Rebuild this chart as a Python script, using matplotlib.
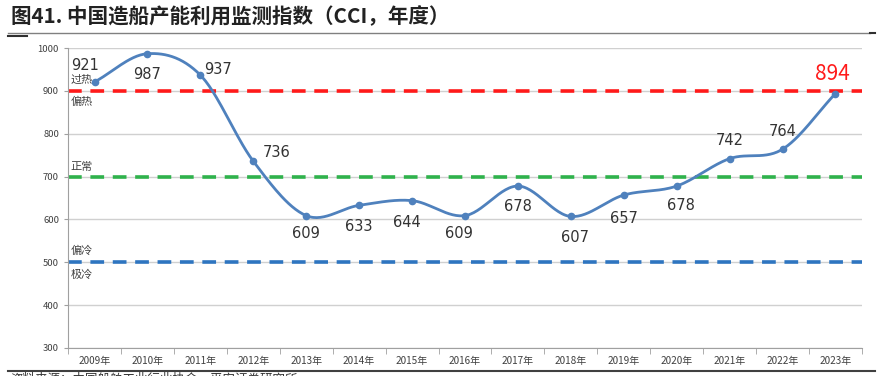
import numpy as np
import matplotlib
matplotlib.use("Agg")
import matplotlib.pyplot as plt
from matplotlib.lines import Line2D

plt.rcParams['font.family'] = ['Noto Sans CJK SC', 'DejaVu Sans']

# data
years = ['2009年', '2010年', '2011年', '2012年', '2013年', '2014年', '2015年', '2016年',
         '2017年', '2018年', '2019年', '2020年', '2021年', '2022年', '2023年']
cci = [921, 987, 937, 736, 609, 633, 644, 609, 678, 607, 657, 678, 742, 764, 894]
# label offsets (points) relative to each marker
label_dx = [-7, 0, 13, 17, 0, 0, -4, -4, 0, 3, 0, 3, 0, 0, -2]
label_dy = [12, -15, 4, 6, -13, -15, -16, -13, -15, -15, -17, -14, 13, 13, 14]

levels = [900, 700, 500]
level_colors = ['#ff1a1a', '#2fb24c', '#2e75c0']
zone_labels = [('过热', 926), ('偏热', 874), ('正常', 723), ('偏冷', 528), ('极冷', 470)]


def catmull_rom(x, y, n=30):
    x = np.asarray(x, float)
    y = np.asarray(y, float)
    px = np.concatenate([[2 * x[0] - x[1]], x, [2 * x[-1] - x[-2]]])
    py = np.concatenate([[2 * y[0] - y[1]], y, [2 * y[-1] - y[-2]]])
    xs, ys = [], []
    t = np.linspace(0, 1, n, endpoint=False)
    for i in range(1, len(px) - 2):
        for arr, out in ((px, xs), (py, ys)):
            p0, p1, p2, p3 = arr[i - 1], arr[i], arr[i + 1], arr[i + 2]
            out.extend(0.5 * (2 * p1 + (-p0 + p2) * t + (2 * p0 - 5 * p1 + 4 * p2 - p3) * t ** 2
                              + (-p0 + 3 * p1 - 3 * p2 + p3) * t ** 3))
    xs.append(x[-1])
    ys.append(y[-1])
    return np.array(xs), np.array(ys)


fig = plt.figure(figsize=(8.84, 3.76), dpi=100)
ax = fig.add_axes([0.077, 0.0745, 0.898, 0.7975])

x = np.arange(len(years))
ax.set_xlim(-0.5, len(years) - 0.5)
ax.set_ylim(300, 1000)
ax.set_yticks(range(300, 1001, 100))
ax.yaxis.grid(True, color='#d0d0d0', lw=1)
ax.set_axisbelow(True)

for lv, c in zip(levels, level_colors):
    ax.axhline(lv, color=c, lw=2.6, ls=(0, (3.8, 2.4)), zorder=2)

sx, sy = catmull_rom(x, cci)
ax.plot(sx, sy, color='#4f81bd', lw=2.0, zorder=3, solid_capstyle='round')
ax.plot(x, cci, 'o', color='#4f81bd', ms=4.5, zorder=4)

for i, v in enumerate(cci):
    last = i == len(cci) - 1
    ax.annotate(str(v), (x[i], v), xytext=(label_dx[i], label_dy[i]), textcoords='offset points',
                ha='center', va='center', fontsize=15 if last else 10.5,
                color='#ff1a1a' if last else '#333333', family='DejaVu Sans' if not last else None)

for txt, yv in zone_labels:
    ax.text(-0.45, yv, txt, fontsize=8, color='#404040', va='center', ha='left')

ax.set_xticks(x)
ax.set_xticklabels(years, fontsize=7.2, color='#404040')
ax.set_xticks(np.arange(-0.5, len(years)), minor=True)
ax.tick_params(axis='x', which='major', length=0, pad=6)
ax.tick_params(axis='x', which='minor', length=4, color='#a0a0a0')
ax.tick_params(axis='y', length=3, color='#a0a0a0', labelsize=6.8, labelcolor='#404040')

for s in ['top', 'right']:
    ax.spines[s].set_visible(False)
for s in ['left', 'bottom']:
    ax.spines[s].set_color('#a0a0a0')

fig.text(0.012, 0.955, '图41. 中国造船产能利用监测指数（CCI，年度）', fontsize=14.8, fontweight='bold',
         color='#222222', va='center')
fig.add_artist(Line2D([0.009, 0.984], [0.912, 0.912], color='#808080', lw=1))
fig.add_artist(Line2D([0.009, 0.03], [0.905, 0.905], color='#303030', lw=1.5))
fig.add_artist(Line2D([0.984, 0.99], [0.912, 0.912], color='#303030', lw=1.5))
fig.add_artist(Line2D([0.009, 0.99], [0.014, 0.014], color='#404040', lw=1.5))
fig.text(0.012, 0.008, '资料来源：中国船舶工业行业协会，平安证券研究所', fontsize=9, color='#333333', va='top')

fig.savefig('out.png', dpi=100)
